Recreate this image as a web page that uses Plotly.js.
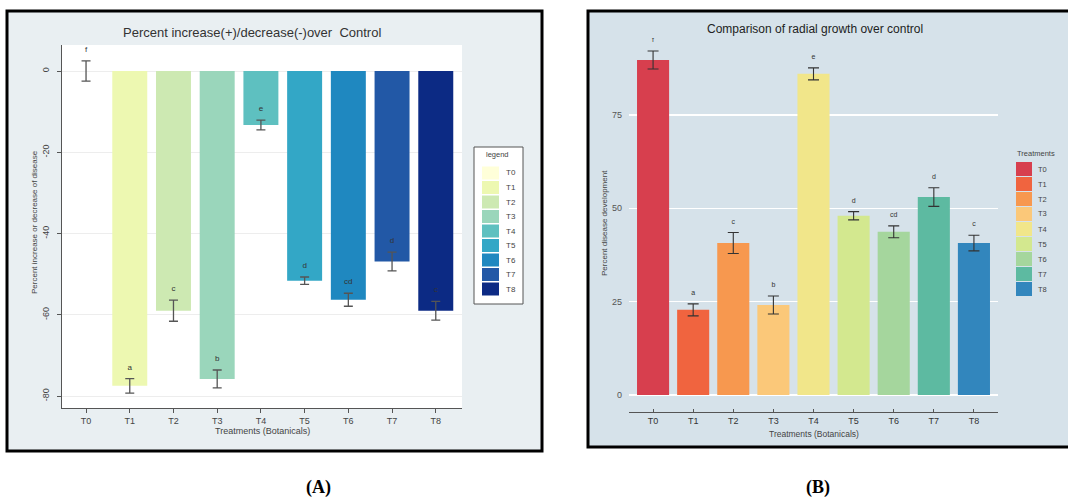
<!DOCTYPE html>
<html>
<head>
<meta charset="utf-8">
<script src="https://cdn.plot.ly/plotly-3.0.1.min.js"></script>
<style>html,body{margin:0;padding:0;background:#fff;}#chart{width:1068px;height:497px;}</style>
</head>
<body>
<div id="chart"></div>
<script>
// ---- data ----
const categories = ['T0','T1','T2','T3','T4','T5','T6','T7','T8'];
// Panel A: percent increase(+)/decrease(-) over control
const changeA = [0, -77.5, -59.0, -75.8, -13.3, -51.6, -56.3, -46.9, -59.0];
const errA    = [2.5, 1.8, 2.6, 2.2, 1.2, 0.9, 1.6, 2.3, 2.3];
const lettersA = ['f','a','c','b','e','d','cd','d','c'];
// Panel B: percent disease development
const growthB = [89.7, 22.8, 40.7, 24.1, 86.0, 48.0, 43.7, 53.0, 40.7];
const errB    = [2.4, 1.6, 2.8, 2.4, 1.6, 1.1, 1.6, 2.5, 2.1];
const lettersB = ['f','a','c','b','e','d','cd','d','c'];

const colorsA = ['#ffffd9','#edf8b1','#cde9b2','#9ad6bb','#5ec0c0','#33a7c6','#1f88c0','#2258a6','#0c2a84'];
const colorsB = ['#d73f4e','#f0643f','#f7984f','#fbc879','#f1e68a','#d3e88f','#a5d69d','#5dbaa1','#3286bd'];

const W = 1068, H = 497;
const px = v => v / W;
const py = v => 1 - v / H;
const FONT = 'Liberation Sans, Arial, sans-serif';

const traces = [];
categories.forEach((c, i) => {
  traces.push({
    type: 'bar', x: [c], y: [changeA[i]], xaxis: 'x', yaxis: 'y',
    width: 0.8, marker: {color: colorsA[i], line: {width: 0}},
    error_y: {type: 'data', array: [errA[i]], visible: true, color: '#555', thickness: 1.3, width: 4.5},
    showlegend: false, name: c, hoverinfo: 'skip'
  });
  traces.push({
    type: 'bar', x: [c], y: [growthB[i]], xaxis: 'x2', yaxis: 'y2',
    width: 0.8, marker: {color: colorsB[i], line: {width: 0}},
    error_y: {type: 'data', array: [errB[i]], visible: true, color: '#333', thickness: 1.1, width: 5.5},
    showlegend: false, name: c, hoverinfo: 'skip'
  });
});
traces.push({
  type: 'scatter', mode: 'text', x: categories,
  y: changeA.map((v, i) => v + errA[i] + 2.7),
  text: lettersA, textposition: 'middle center',
  textfont: {family: FONT, size: 8, color: '#333'},
  xaxis: 'x', yaxis: 'y', showlegend: false, hoverinfo: 'skip'
});
traces.push({
  type: 'scatter', mode: 'text', x: categories,
  y: growthB.map((v, i) => v + errB[i] + 2.8),
  text: lettersB, textposition: 'middle center',
  textfont: {family: FONT, size: 7, color: '#333'},
  xaxis: 'x2', yaxis: 'y2', showlegend: false, hoverinfo: 'skip'
});

const shapes = [
  // panel frames
  {type: 'rect', xref: 'paper', yref: 'paper', x0: px(7), x1: px(542), y0: py(451), y1: py(11),
   fillcolor: '#e9eff2', line: {color: '#000', width: 3}, layer: 'below'},
  {type: 'rect', xref: 'paper', yref: 'paper', x0: px(588), x1: px(1075), y0: py(447), y1: py(11),
   fillcolor: '#d6e2ea', line: {color: '#000', width: 3}, layer: 'below'},
  // white plot area of panel A
  {type: 'rect', xref: 'x domain', yref: 'y domain', x0: 0, x1: 1, y0: 0, y1: 1,
   fillcolor: '#ffffff', line: {width: 0}, layer: 'below'},
  // legend A box
  {type: 'rect', xref: 'paper', yref: 'paper', x0: px(474), x1: px(523), y0: py(304), y1: py(147),
   fillcolor: '#ffffff', line: {color: '#555', width: 1}, layer: 'above'}
];
function ann(text, x, y, font, extra) {
  return Object.assign({text: text, x: px(x), y: py(y), xref: 'paper', yref: 'paper',
    xanchor: 'center', yanchor: 'middle', showarrow: false, font: font}, extra || {});
}
const annotations = [
  ann('Percent increase(+)/decrease(-)over  Control', 252, 33, {family: FONT, size: 13, color: '#333'}),
  ann('Comparison of radial growth over control', 815, 29, {family: FONT, size: 12, color: '#222'}),
  ann('Percent increase or decrease of disease', 34, 222, {family: FONT, size: 8, color: '#444'}, {textangle: -90}),
  ann('Percent disease development', 605, 223, {family: FONT, size: 8, color: '#444'}, {textangle: -90}),
  ann('Treatments (Botanicals)', 262, 431, {family: FONT, size: 9, color: '#444'}),
  ann('Treatments (Botanicals)', 814, 434, {family: FONT, size: 8.5, color: '#444'}),
  ann('<b>(A)</b>', 318, 487, {family: 'Liberation Serif, Times New Roman, serif', size: 18, color: '#000'}),
  ann('<b>(B)</b>', 818, 487, {family: 'Liberation Serif, Times New Roman, serif', size: 18, color: '#000'}),
  ann('legend', 498, 155, {family: FONT, size: 7.5, color: '#444'}),
  ann('Treatments', 1015, 153, {family: FONT, size: 7.5, color: '#444'}, {xanchor: 'left'})
];
categories.forEach((c, i) => {
  const ya = 173 + 14.5 * i;
  shapes.push({type: 'rect', xref: 'paper', yref: 'paper', x0: px(482), x1: px(499), y0: py(ya + 6.5), y1: py(ya - 6.5),
    fillcolor: colorsA[i], line: {width: 0}, layer: 'above'});
  annotations.push(ann(c, 504, ya, {family: FONT, size: 8, color: '#444'}, {xanchor: 'left'}));
  const yb = 169 + 15 * i;
  shapes.push({type: 'rect', xref: 'paper', yref: 'paper', x0: px(1016), x1: px(1032), y0: py(yb + 7), y1: py(yb - 7),
    fillcolor: colorsB[i], line: {width: 0}, layer: 'above'});
  annotations.push(ann(c, 1036, yb, {family: FONT, size: 7.5, color: '#444'}, {xanchor: 'left'}));
});

const layout = {
  width: W, height: H,
  margin: {l: 0, r: 0, t: 0, b: 0},
  paper_bgcolor: '#ffffff', plot_bgcolor: 'rgba(0,0,0,0)',
  barmode: 'overlay', showlegend: false,
  font: {family: FONT},
  xaxis: {
    domain: [px(62), px(462)], anchor: 'y', type: 'category', range: [-0.55, 8.6],
    showline: true, linecolor: '#555', linewidth: 1, ticks: 'outside', ticklen: 4, tickcolor: '#555',
    showgrid: false, zeroline: false, tickfont: {family: FONT, size: 9, color: '#444'}, fixedrange: true
  },
  yaxis: {
    domain: [py(408), py(45)], anchor: 'x', range: [-82.95, 6.4],
    tickvals: [0, -20, -40, -60, -80], ticktext: ['0', '-20', '-40', '-60', '-80'], tickangle: -90,
    showline: true, linecolor: '#555', linewidth: 1, ticks: 'outside', ticklen: 4, tickcolor: '#555',
    ticklabelstandoff: 4,
    showgrid: true, gridcolor: '#ededed', gridwidth: 1, zeroline: false,
    tickfont: {family: FONT, size: 9, color: '#444'}, fixedrange: true
  },
  xaxis2: {
    domain: [px(629), px(998)], anchor: 'y2', type: 'category', range: [-0.6, 8.6],
    showline: true, linecolor: '#555', linewidth: 1, ticks: 'inside', ticklen: 3, tickcolor: '#555',
    showgrid: false, zeroline: false, tickfont: {family: FONT, size: 9, color: '#333'}, fixedrange: true
  },
  yaxis2: {
    domain: [py(412), py(38)], anchor: 'x2', range: [-4.55, 95.6],
    tickvals: [0, 25, 50, 75], showline: false, ticks: '',
    showgrid: true, gridcolor: '#ffffff', gridwidth: 1.5, zeroline: false,
    tickfont: {family: FONT, size: 9, color: '#555'}, ticklabelstandoff: 6, fixedrange: true
  },
  shapes: shapes,
  annotations: annotations
};

Plotly.newPlot('chart', traces, layout, {displayModeBar: false, staticPlot: true});
</script>
</body>
</html>
